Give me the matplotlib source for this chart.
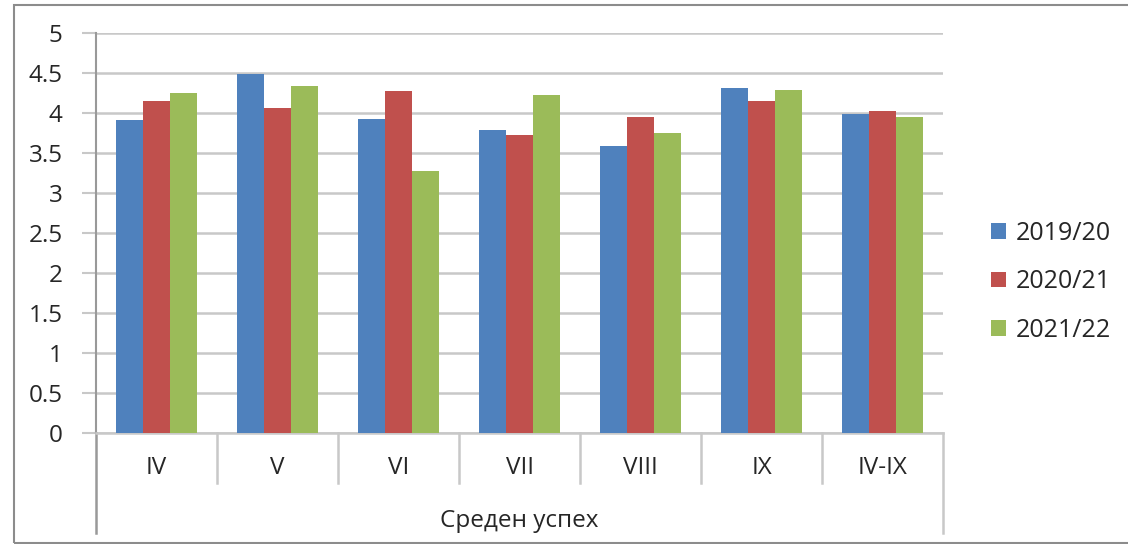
import matplotlib.pyplot as plt
import matplotlib.transforms as mtransforms
import numpy as np

# grades and average score per school year
categories = ['IV', 'V', 'VI', 'VII', 'VIII', 'IX', 'IV-IX']
years = ['2019/20', '2020/21', '2021/22']
y2019 = [3.91, 4.49, 3.92, 3.79, 3.59, 4.31, 3.99]
y2020 = [4.15, 4.06, 4.27, 3.72, 3.95, 4.15, 4.02]
y2021 = [4.25, 4.34, 3.28, 4.22, 3.75, 4.29, 3.95]
group_label = 'Среден успех'

colors = ['#4F81BD', '#C0504D', '#9BBB59']
grid_col = '#C8C8C8'
txt_col = '#262626'

plt.rcParams['font.family'] = ['Open Sans', 'DejaVu Sans']

fig = plt.figure(figsize=(11.28, 5.44), dpi=100)
ax = fig.add_axes([96 / 1128, 111 / 544, (943 - 96) / 1128, 400 / 544])

# outer chart border
fig.patches.append(plt.Rectangle((14 / 1128, 1 / 544), 1.2, 538 / 544,
                                 transform=fig.transFigure, fill=False,
                                 edgecolor='#8C8C8C', linewidth=1.5))

x = np.arange(len(categories))
w = 0.223
for i, (vals, c) in enumerate(zip([y2019, y2020, y2021], colors)):
    ax.bar(x + (i - 1) * w, vals, w, color=c, label=years[i], zorder=3)

ax.set_xlim(-0.5, len(categories) - 0.5)
ax.set_ylim(0, 5)
ax.set_yticks(np.arange(0, 5.01, 0.5))
ax.set_yticklabels(['0', '0.5', '1', '1.5', '2', '2.5', '3', '3.5', '4', '4.5', '5'])
ax.yaxis.grid(True, color=grid_col, linewidth=1.8, zorder=0)
ax.tick_params(axis='y', length=10, width=1.5, color=grid_col, labelsize=17.5,
               labelcolor=txt_col, pad=14)
ax.set_xticks([])

for s in ['top', 'right']:
    ax.spines[s].set_visible(False)
ax.spines['left'].set_color('#999999')
ax.spines['left'].set_linewidth(1.5)
ax.spines['bottom'].set_color(grid_col)
ax.spines['bottom'].set_linewidth(1.8)

# category axis boxes below the plot
tr = mtransforms.blended_transform_factory(ax.transData, ax.transAxes)
for b in np.arange(-0.5, len(categories), 1.0):
    outer = b in (-0.5, len(categories) - 0.5)
    y_end = -0.25 if outer else -0.125
    col = '#999999' if b == -0.5 else grid_col
    ax.plot([b, b], [0, y_end], transform=tr, color=col, linewidth=1.8,
            clip_on=False)
for xi, lab in zip(x, categories):
    ax.text(xi, -0.0875, lab, transform=tr, ha='center', va='center',
            fontsize=17.5, color=txt_col)
ax.text((len(categories) - 1) / 2, -0.22, group_label, transform=tr,
        ha='center', va='center', fontsize=17.5, color=txt_col)

fig.legend(loc='upper left', bbox_to_anchor=(968 / 1128, 1 - 198 / 544),
           frameon=False, fontsize=18, handlelength=0.6, handleheight=0.6,
           handletextpad=0.4, labelspacing=0.95, labelcolor=txt_col)

fig.savefig('out.png', dpi=100)
